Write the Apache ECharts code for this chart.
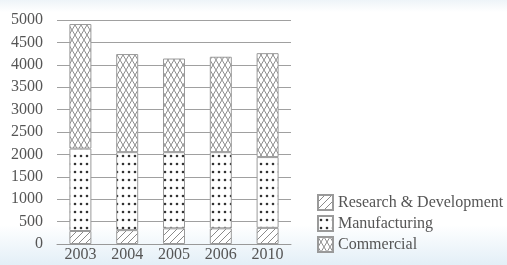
<!DOCTYPE html>
<html>
<head>
<meta charset="utf-8">
<script src="https://cdn.jsdelivr.net/npm/echarts@6/dist/echarts.min.js"></script>
<style>
  html, body { margin: 0; padding: 0; }
  body { background: linear-gradient(to bottom, #eef4f8 0px, #ffffff 12px, #ffffff 225px, #e3eff7 265px); }
  #main { width: 507px; height: 265px; }
</style>
</head>
<body>
<div id="main"></div>
<script>
// data
const years = ['2003', '2004', '2005', '2006', '2010'];
const research = [290, 310, 350, 350, 360];
const manufacturing = [1840, 1740, 1700, 1700, 1580];
const commercial = [2780, 2190, 2090, 2130, 2320];

// fill patterns
function makePattern(w, h, paint) {
  const c = document.createElement('canvas');
  c.width = w;
  c.height = h;
  const ctx = c.getContext('2d');
  ctx.fillStyle = '#ffffff';
  ctx.fillRect(0, 0, w, h);
  paint(ctx);
  return { image: c, repeat: 'repeat' };
}

const hatch = makePattern(7, 7, ctx => {
  ctx.strokeStyle = '#8a8a8a';
  ctx.lineWidth = 1;
  ctx.beginPath();
  ctx.moveTo(-1, 8); ctx.lineTo(8, -1);
  ctx.moveTo(-2, 2); ctx.lineTo(2, -2);
  ctx.moveTo(5, 9); ctx.lineTo(9, 5);
  ctx.stroke();
});

const dots = makePattern(6, 8, ctx => {
  ctx.fillStyle = '#333';
  ctx.beginPath();
  ctx.arc(3, 4, 1.3, 0, Math.PI * 2);
  ctx.fill();
});

const cross = makePattern(6, 10, ctx => {
  ctx.strokeStyle = '#8c8c8c';
  ctx.lineWidth = 1;
  ctx.beginPath();
  ctx.moveTo(0, 0); ctx.lineTo(6, 10);
  ctx.moveTo(6, 0); ctx.lineTo(0, 10);
  ctx.stroke();
});

const font = 'Times New Roman';

function bar(name, data, pattern) {
  return {
    name,
    type: 'bar',
    stack: 'total',
    barWidth: 22,
    data,
    itemStyle: { color: pattern, borderColor: '#9a9a9a', borderWidth: 1 },
    emphasis: { disabled: true }
  };
}

const chart = echarts.init(document.getElementById('main'));
chart.setOption({
  animation: false,
  grid: { left: 57, right: 216, top: 20, bottom: 21 },
  legend: {
    orient: 'vertical',
    left: 312,
    top: 189,
    itemWidth: 15,
    itemHeight: 15,
    itemGap: 4,
    icon: 'rect',
    textStyle: { fontFamily: font, fontSize: 16, color: '#555' },
    data: ['Research & Development', 'Manufacturing', 'Commercial']
  },
  xAxis: {
    type: 'category',
    data: years,
    axisLine: { lineStyle: { color: '#999' } },
    axisTick: { show: false },
    axisLabel: { fontFamily: font, fontSize: 16, color: '#555', margin: 3 }
  },
  yAxis: {
    type: 'value',
    min: 0,
    max: 5000,
    interval: 500,
    axisLine: { show: false },
    axisTick: { show: false },
    splitLine: { lineStyle: { color: '#a0a0a0' } },
    axisLabel: { fontFamily: font, fontSize: 16, color: '#555', margin: 14, formatter: v => String(v) }
  },
  series: [
    bar('Research & Development', research, hatch),
    bar('Manufacturing', manufacturing, dots),
    bar('Commercial', commercial, cross)
  ]
});
</script>
</body>
</html>
